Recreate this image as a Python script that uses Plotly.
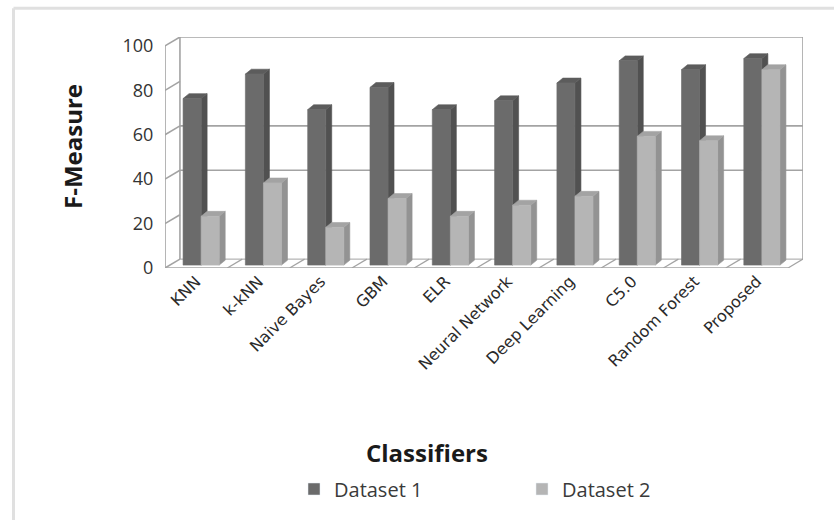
import plotly.graph_objects as go

# ---- data ----
classifiers = ["KNN", "k-kNN", "Naive Bayes", "GBM", "ELR", "Neural Network",
               "Deep Learning", "C5.0", "Random Forest", "Proposed"]
dataset1 = [75, 86, 70, 80, 70, 74, 82, 92, 88, 93]
dataset2 = [22, 37, 17, 30, 22, 27, 31, 58, 56, 88]
y_ticks = [0, 20, 40, 60, 80, 100]

# ---- pseudo-3D geometry (data units) ----
DX, DY = 0.24, 4.0          # depth of the walls / floor
BDX, BDY = 0.096, 2.2       # depth of each column
BASE = 1.3                  # columns sit slightly back on the floor
W = 0.29                    # column width
OFFS = [-0.21, 0.08]        # left edge of each series' front face
XMIN, XMAX = -0.5, len(classifiers) - 0.5
YTOP = 100

series = [
    dict(name="Dataset 1", vals=dataset1, front="#6b6b6b", side="#515151", top="#5c5c5c"),
    dict(name="Dataset 2", vals=dataset2, front="#b5b5b5", side="#939393", top="#a3a3a3"),
]

fig = go.Figure()


def add_poly(xs, ys, color):
    fig.add_trace(go.Scatter(x=xs, y=ys, mode="lines", fill="toself", fillcolor=color,
                             line=dict(width=0.6, color=color), hoverinfo="skip",
                             showlegend=False))


# columns drawn category by category so nearer faces cover farther ones
for i in range(len(classifiers)):
    for s, off in zip(series, OFFS):
        v = s["vals"][i]
        x0 = i + off
        x1 = x0 + W
        t = BASE + v
        # side face
        add_poly([x1, x1, x1 + BDX, x1 + BDX, x1], [BASE, t, t + BDY, BASE + BDY, BASE], s["side"])
        # top face
        add_poly([x0, x1, x1 + BDX, x0 + BDX, x0], [t, t, t + BDY, t + BDY, t], s["top"])
        # front face
        add_poly([x0, x1, x1, x0, x0], [BASE, BASE, t, t, BASE], s["front"])

# legend entries
for s in series:
    fig.add_trace(go.Bar(x=[None], y=[None], name=s["name"], marker_color=s["front"]))

# ---- walls, floor and gridlines ----
LC = "#a3a3a3"
shapes = []


def seg(x0, y0, x1, y1, color=LC, width=1.6):
    shapes.append(dict(type="line", xref="x", yref="y", x0=x0, y0=y0, x1=x1, y1=y1,
                       line=dict(color=color, width=width), layer="below"))


# left side wall
seg(XMIN, 0, XMIN, YTOP)
seg(XMIN + DX, DY, XMIN + DX, YTOP + DY)
for v in y_ticks:
    seg(XMIN, v, XMIN + DX, v + DY)
# back wall
seg(XMIN + DX, YTOP + DY, XMAX + DX, YTOP + DY)
seg(XMAX + DX, DY, XMAX + DX, YTOP + DY)
for v in (40, 60):
    seg(XMIN + DX, v + DY, XMAX + DX, v + DY)
# floor
seg(XMIN, 0, XMAX, 0)
seg(XMIN + DX, DY, XMAX + DX, DY, width=1.0)
for k in range(1, len(classifiers) + 1):
    seg(XMIN + k, 0, XMIN + k + DX, DY, width=1.2)

# outer chart border (paper coords)
shapes.append(dict(type="line", xref="paper", yref="paper", x0=-0.2375, x1=-0.2375,
                   y0=1.125, y1=-1.2, line=dict(color="#e0e0e0", width=3)))
shapes.append(dict(type="line", xref="paper", yref="paper", x0=-0.2375, x1=1.1,
                   y0=1.125, y1=1.125, line=dict(color="#e0e0e0", width=3)))

L, R, T, B = 165, 31, 37, 252
PW, PH = 834 - L - R, 520 - T - B


def px(xp):
    return (xp - L) / PW


def py(yp):
    return (520 - B - yp) / PH


fig.update_layout(
    width=834, height=520,
    margin=dict(l=L, r=R, t=T, b=B, autoexpand=False),
    paper_bgcolor="white", plot_bgcolor="white",
    shapes=shapes,
    showlegend=True,
    legend=dict(orientation="h", x=px(294), y=py(489), xanchor="left", yanchor="middle",
                font=dict(family="Open Sans", size=20, color="#3a3a3a"),
                entrywidth=183, entrywidthmode="pixels", bgcolor="rgba(0,0,0,0)"),
    xaxis=dict(range=[XMIN, XMAX + DX], tickmode="array", tickvals=list(range(len(classifiers))),
               ticktext=classifiers, tickangle=-45, showgrid=False, zeroline=False,
               showline=False, ticks="", fixedrange=True,
               tickfont=dict(family="DejaVu Sans", size=16, color="#2a2a2a")),
    yaxis=dict(range=[0, YTOP + DY], tickmode="array", tickvals=y_ticks,
               ticktext=[str(v) for v in y_ticks], showgrid=False, zeroline=False,
               showline=False, ticks="outside", ticklen=7, tickcolor="rgba(0,0,0,0)",
               fixedrange=True,
               tickfont=dict(family="Open Sans", size=18, color="#333333")),
    annotations=[
        dict(text="<b>F-Measure</b>", xref="paper", yref="paper", x=px(72), y=py(146),
             textangle=-90, showarrow=False, xanchor="center", yanchor="middle",
             font=dict(family="Open Sans", size=24, color="#1a1a1a")),
        dict(text="<b>Classifiers</b>", xref="paper", yref="paper", x=px(427), y=py(452),
             showarrow=False, xanchor="center", yanchor="middle",
             font=dict(family="Open Sans", size=24, color="#1a1a1a")),
    ],
)

fig.write_html("out.html")
